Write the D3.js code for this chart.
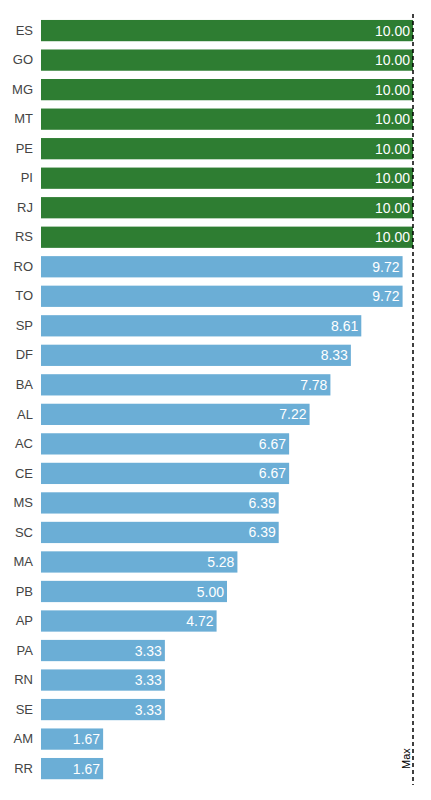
<!DOCTYPE html>
<html>
<head>
<meta charset="utf-8">
<script src="https://cdn.jsdelivr.net/npm/d3@7"></script>
<style>
  body { margin: 0; background: #fff; }
  .label { font-family: Arial, "Liberation Sans", sans-serif; font-size: 13px; fill: #444; }
  .value { font-family: Arial, "Liberation Sans", sans-serif; font-size: 14px; fill: #fff; }
  .maxText { font-family: Arial, "Liberation Sans", sans-serif; font-size: 11px; fill: #000; }
</style>
</head>
<body>
<div id="chart"></div>
<script>
var svgWidth = 431;
var svgHeight = 800;

// Data
var states = ["ES", "GO", "MG", "MT", "PE", "PI", "RJ", "RS", "RO", "TO", "SP", "DF", "BA",
    "AL", "AC", "CE", "MS", "SC", "MA", "PB", "AP", "PA", "RN", "SE", "AM", "RR"];
var scores = [10.00, 10.00, 10.00, 10.00, 10.00, 10.00, 10.00, 10.00, 9.72, 9.72, 8.61, 8.33, 7.78,
    7.22, 6.67, 6.67, 6.39, 6.39, 5.28, 5.00, 4.72, 3.33, 3.33, 3.33, 1.67, 1.67];
var maxScore = 10;

var data = states.map(function(s, i) {
    return { state: s, score: scores[i] };
});

var svg = d3.select("#chart")
    .append("svg")
    .attr("width", svgWidth)
    .attr("height", svgHeight);

// Scales
var xScale = d3.scaleLinear()
    .domain([0, maxScore])
    .range([41, 413]);

var yScale = d3.scaleBand()
    .domain(states)
    .range([11.7, 787.5])
    .padding(0.28);

// Category labels
var yAxis = d3.axisLeft(yScale).tickSize(0).tickPadding(8);
var yAxisG = svg.append("g")
    .attr("transform", "translate(" + xScale(0) + ",0)")
    .call(yAxis);
yAxisG.select(".domain").remove();
yAxisG.selectAll("text")
    .attr("class", "label")
    .attr("font-size", null)
    .attr("font-family", null)
    .attr("fill", null);

// Bars
svg.selectAll(".bar")
    .data(data)
    .enter()
    .append("rect")
    .attr("class", "bar")
    .attr("x", xScale(0))
    .attr("y", d => yScale(d.state))
    .attr("width", d => xScale(d.score) - xScale(0))
    .attr("height", yScale.bandwidth())
    .attr("fill", d => d.score >= maxScore ? "#2e7d32" : "#6baed6");

// Value labels
svg.selectAll(".value")
    .data(data)
    .enter()
    .append("text")
    .attr("class", "value")
    .attr("x", d => xScale(d.score) - 3)
    .attr("y", d => yScale(d.state) + yScale.bandwidth() / 2)
    .attr("dy", "0.36em")
    .attr("text-anchor", "end")
    .text(d => d.score.toFixed(2));

// Max line
svg.append("line")
    .attr("x1", xScale(maxScore))
    .attr("x2", xScale(maxScore))
    .attr("y1", 14)
    .attr("y2", 785)
    .attr("stroke", "#000")
    .attr("stroke-width", 1.5)
    .attr("stroke-dasharray", "4,3");

svg.append("text")
    .attr("class", "maxText")
    .attr("transform", "translate(" + (xScale(maxScore) - 3) + ",769) rotate(-90)")
    .attr("text-anchor", "start")
    .text("Max");
</script>
</body>
</html>
